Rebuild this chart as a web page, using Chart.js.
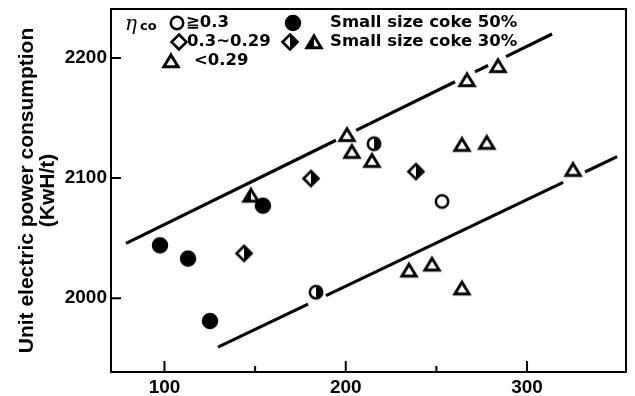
<!DOCTYPE html>
<html>
<head>
<meta charset="UTF-8" />
<title>Unit electric power consumption</title>
<script src="https://cdn.jsdelivr.net/npm/chart.js"></script>
<style>
  body { margin: 0; background: #fff; }
  canvas { display: block; }
</style>
</head>
<body>
<canvas id="chart" width="635" height="396"></canvas>
<script>
// values
const fullCircleX = [97.5, 113, 125.1, 154.3]
const fullCircleY = [2044, 2033, 1981, 2077]
const halfCircleX = [183.6, 215.6]
const halfCircleY = [2005, 2128.6]
const openCircleX = [253.1]
const openCircleY = [2080.5]
const halfDiamondX = [143.9, 180.8, 238.7]
const halfDiamondY = [2037.3, 2099.6, 2105.4]
const openTriangleX = [200.7, 203.4, 214.5, 264.1, 277.8, 266.9, 284, 325.4, 234.9, 247.6, 264.1]
const openTriangleY = [2136, 2122, 2114.5, 2127.8, 2129.5, 2181.7, 2193.4, 2107, 2023.2, 2028.2, 2008.3]
const halfTriangleX = [147.7]
const halfTriangleY = [2085.5]

// the two band lines, null = break in the line
const upperLineX = [78.8, 194.6, null, 205.7, 260.3, null, 271.3, 278.5, null, 288.4, 313.8]
const upperLineY = [2045.6, 2131.5, null, 2139.7, 2180.2, null, 2188.4, 2193.7, null, 2201.1, 2219.9]
const lowerLineX = [129.5, 179.2, null, 189.1, 319.9, null, 332, 349.7]
const lowerLineY = [1959.3, 1995.1, null, 2002.2, 2096.4, null, 2105.1, 2117.8]

const xTicks = [100, 200, 300]
const xMinorTicks = [150, 250]
const yTicks = [2000, 2100, 2200]
const yTitle = ['Unit electric power consumption', '(KwH/t)']

function pts(xs, ys) {
  return xs.map((x, i) => ({ x: x, y: ys[i] }))
}

// draws one marker into a small canvas, used as pointStyle
function marker(shape, fill, r, lw) {
  const c = document.createElement('canvas')
  c.width = 24
  c.height = 24
  const g = c.getContext('2d')
  g.translate(12, 12)
  g.lineWidth = lw
  g.strokeStyle = '#000'
  const path = () => {
    g.beginPath()
    if (shape === 'circle') g.arc(0, 0, r, 0, Math.PI * 2)
    if (shape === 'diamond') { g.moveTo(0, -r); g.lineTo(r, 0); g.lineTo(0, r); g.lineTo(-r, 0); g.closePath() }
    if (shape === 'triangle') { g.moveTo(0, -r * 0.85); g.lineTo(r, r * 0.8); g.lineTo(-r, r * 0.8); g.closePath() }
  }
  path()
  g.fillStyle = fill === 'full' ? '#000' : '#fff'
  g.fill()
  if (fill === 'right' || fill === 'left') {
    g.save()
    path()
    g.clip()
    g.fillStyle = '#000'
    if (fill === 'right') g.fillRect(0, -12, 12, 24)
    else g.fillRect(-12, -12, 12, 24)
    g.restore()
  }
  path()
  g.stroke()
  return c
}

const mFullCircle = marker('circle', 'full', 7, 2.5)
const mHalfCircle = marker('circle', 'right', 6.2, 2.5)
const mOpenCircle = marker('circle', 'none', 6.2, 2.5)
const mOpenDiamond = marker('diamond', 'none', 7.5, 2.6)
const mHalfDiamond = marker('diamond', 'right', 7.5, 2.6)
const mOpenTriangle = marker('triangle', 'none', 7.2, 2.9)
const mHalfTriangle = marker('triangle', 'left', 7.2, 2.9)

const tickFont = { family: '"Liberation Sans", Arial, sans-serif', weight: 'bold', size: 19 }

function scatterSet(label, data, style) {
  return { label: label, data: data, pointStyle: style, pointRadius: 8, showLine: false, order: 1 }
}

function lineSet(label, data) {
  return {
    label: label, data: data, showLine: true, spanGaps: false, pointRadius: 0,
    borderColor: '#000', borderWidth: 3.2, borderCapStyle: 'butt', order: 5
  }
}

// inward ticks, frame and the legend
const framePlugin = {
  id: 'frame',
  afterDraw(chart) {
    const ctx = chart.ctx
    const a = chart.chartArea
    const xs = chart.scales.x
    const ys = chart.scales.y
    ctx.save()
    ctx.strokeStyle = '#000'
    ctx.lineWidth = 2
    ctx.strokeRect(a.left, a.top, a.right - a.left, a.bottom - a.top)
    ctx.beginPath()
    xTicks.concat(xMinorTicks).forEach(v => {
      const px = xs.getPixelForValue(v)
      const len = xTicks.includes(v) ? 11 : 6
      ctx.moveTo(px, a.bottom)
      ctx.lineTo(px, a.bottom - len)
    })
    yTicks.forEach(v => {
      const py = ys.getPixelForValue(v)
      ctx.moveTo(a.left, py)
      ctx.lineTo(a.left + 10, py)
    })
    ctx.stroke()

    // legend
    const put = (m, x, y) => ctx.drawImage(m, x - 12, y - 12)
    ctx.fillStyle = '#000'
    ctx.textBaseline = 'middle'
    ctx.font = 'italic 20px "DejaVu Serif", serif'
    ctx.fillText('η', a.left + 14, a.top + 16)
    ctx.font = 'bold 13px "DejaVu Sans", sans-serif'
    ctx.fillText('co', a.left + 29, a.top + 18)
    ctx.font = 'bold 16.5px "DejaVu Sans", sans-serif'
    put(mOpenCircle, 177, 23)
    ctx.fillText('≧0.3', 186, 23)
    put(mFullCircle, 293, 23)
    ctx.fillText('Small size coke 50%', 330, 23)
    put(mOpenDiamond, 179, 42)
    ctx.fillText('0.3∼0.29', 187, 42)
    put(mHalfDiamond, 290, 42)
    put(mHalfTriangle, 314, 42)
    ctx.fillText('Small size coke 30%', 330, 42)
    put(mOpenTriangle, 171, 61)
    ctx.fillText('<0.29', 194, 61)
    ctx.restore()
  }
}

function noEdgePadding(s) {
  s.paddingTop = 0
  s.paddingBottom = 0
  s.paddingLeft = 0
  s.paddingRight = 0
}

new Chart(document.getElementById('chart').getContext('2d'), {
  type: 'scatter',
  data: {
    datasets: [
      scatterSet('Small size coke 50%', pts(fullCircleX, fullCircleY), mFullCircle),
      scatterSet('≧0.3 (30%)', pts(halfCircleX, halfCircleY), mHalfCircle),
      scatterSet('≧0.3', pts(openCircleX, openCircleY), mOpenCircle),
      scatterSet('0.3∼0.29 (30%)', pts(halfDiamondX, halfDiamondY), mHalfDiamond),
      scatterSet('<0.29', pts(openTriangleX, openTriangleY), mOpenTriangle),
      scatterSet('<0.29 (30%)', pts(halfTriangleX, halfTriangleY), mHalfTriangle),
      lineSet('upper', pts(upperLineX, upperLineY)),
      lineSet('lower', pts(lowerLineX, lowerLineY))
    ]
  },
  options: {
    responsive: false,
    animation: false,
    layout: { padding: { top: 8, right: 9, left: 0, bottom: 0 } },
    plugins: { legend: { display: false }, tooltip: { enabled: false } },
    scales: {
      x: {
        type: 'linear',
        min: 70.5,
        max: 354.6,
        afterFit: s => { s.height = 24; noEdgePadding(s) },
        afterBuildTicks: s => { s.ticks = xTicks.map(v => ({ value: v })) },
        grid: { display: false, drawTicks: false },
        border: { display: true, color: '#000', width: 2 },
        ticks: { autoSkip: false, padding: 4, color: '#000', font: tickFont, callback: v => v }
      },
      y: {
        type: 'linear',
        min: 1938.6,
        max: 2240.7,
        afterFit: s => { s.width = 111; noEdgePadding(s) },
        afterBuildTicks: s => { s.ticks = yTicks.map(v => ({ value: v })) },
        grid: { display: false, drawTicks: false },
        border: { display: true, color: '#000', width: 2 },
        ticks: { autoSkip: false, padding: 4, color: '#000', font: tickFont, callback: v => v },
        title: {
          display: true,
          text: yTitle,
          color: '#000',
          font: { family: '"Liberation Sans", Arial, sans-serif', weight: 'bold', size: 21, lineHeight: 1.02 },
          padding: { top: 16, bottom: 0 }
        }
      }
    }
  },
  plugins: [framePlugin]
})
</script>
</body>
</html>
